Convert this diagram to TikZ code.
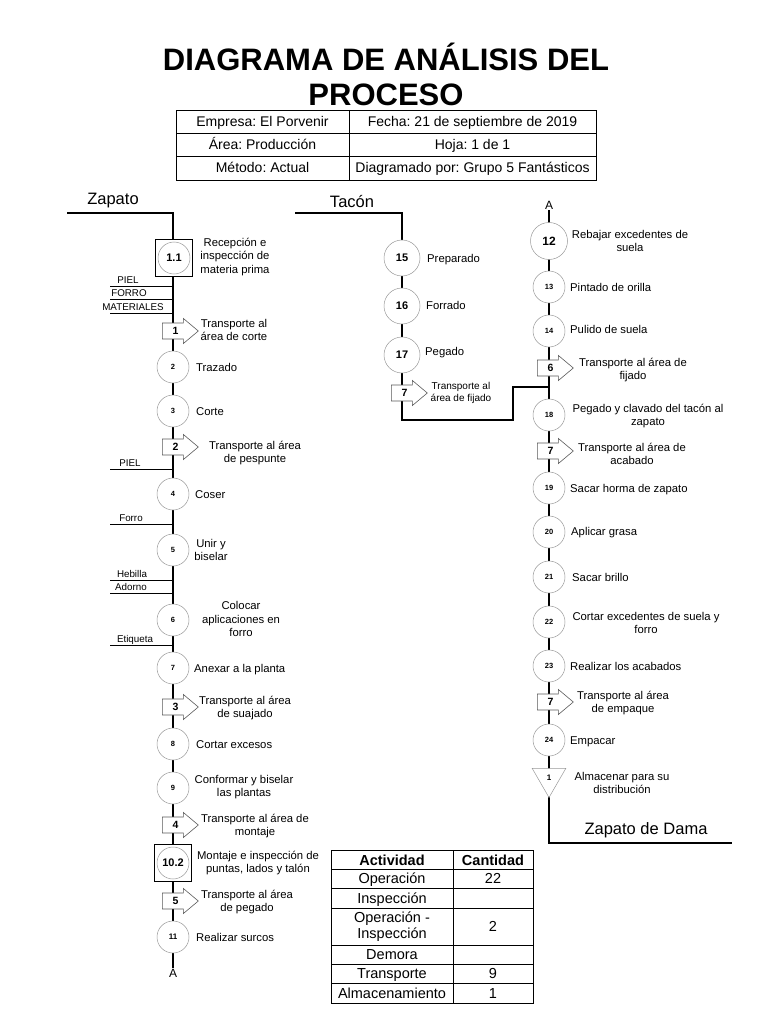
\documentclass[tikz,border=0pt]{standalone}
\usepackage{fontspec}
\setmainfont{Liberation Sans}
\usetikzlibrary{shapes.geometric, shapes.arrows, backgrounds}
\frenchspacing

\tikzset{
  flujo/.style={line width=1.2pt},
  matline/.style={line width=0.9pt},
  tabla/.style={line width=0.9pt},
  opcirc/.style={circle, draw=gray!80, line width=0.5pt, fill=white, minimum size=32pt, inner sep=0pt, font=\fontsize{7.5}{8}\selectfont\bfseries},
  opgrande/.style={opcirc, minimum size=36pt, font=\fontsize{11}{12}\selectfont\bfseries},
  inspbox/.style={rectangle, draw=black, line width=0.9pt, fill=white, minimum size=37pt, inner sep=0pt,
    font=\fontsize{11}{12}\selectfont\bfseries,
    path picture={\draw[gray!80, line width=0.5pt] (path picture bounding box.center) circle (16pt);}},
  transp/.style={single arrow, draw=black!65, line width=0.6pt, fill=white, anchor=tail,
    minimum height=36pt, minimum width=25pt, single arrow head extend=4.5pt, inner sep=4pt,
    single arrow tip angle=80, font=\fontsize{10.5}{11}\selectfont\bfseries},
  almac/.style={regular polygon, regular polygon sides=3, shape border rotate=180, draw=gray!80,
    line width=0.5pt, fill=white, minimum size=39pt, inner sep=0pt, font=\fontsize{8}{9}\selectfont\bfseries},
  desc/.style={align=center, inner sep=0pt, font=\fontsize{11.3}{13.5}\selectfont},
  descl/.style={desc, anchor=base west, yshift=-4pt},
  mat/.style={anchor=base, inner sep=0pt, font=\fontsize{9.8}{10}\selectfont},
  letra/.style={inner sep=1pt, font=\fontsize{12}{12}\selectfont},
  rotulo/.style={inner sep=0pt, font=\fontsize{16.5}{18}\selectfont},
  celda/.style={align=center, inner sep=0pt, anchor=base, yshift=-5pt, font=\fontsize{14}{16}\selectfont},
  resumen/.style={celda, font=\fontsize{14.5}{16}\selectfont},
  titulo/.style={align=center, inner sep=0pt, font=\fontsize{31}{35}\selectfont\bfseries}
}

\begin{document}
\begin{tikzpicture}[x=1pt, y=-1pt]
\useasboundingbox (0,0) rectangle (768,1024);

% titulo
\node[titulo] (tit) at (386,74.5) {DIAGRAMA DE ANÁLISIS DEL\\PROCESO};

% cabecera
\def\hxa{176}\def\hxb{349}\def\hxc{596}
\draw[tabla] (\hxa,110) rectangle (\hxc,180);
\draw[tabla] (\hxb,110) -- (\hxb,180);
\draw[tabla] (\hxa,133) -- (\hxc,133) (\hxa,156) -- (\hxc,156);
\foreach \yy/\ta/\tb [count=\i] in {121.5/{Empresa: El Porvenir}/{Fecha: 21 de septiembre de 2019},
    144.5/{Área: Producción}/{Hoja: 1 de 1},
    168/{Método: Actual}/{Diagramado por: Grupo 5 Fantásticos}}
{
  \node[celda] (ha\i) at (262.5,\yy) {\ta};
  \node[celda] (hb\i) at (472.5,\yy) {\tb};
}

% Zapato
\node[rotulo] (zap) at (113,201) {Zapato};
\coordinate (z0) at (67,213);
\coordinate (z1) at (173,213);
\node[letra] (zA) at (173,973) {A};

\node[inspbox] (s11) at (174,258) {1.1};
\node[desc] (d11) at (235,257) {Recepción e\\inspección de\\materia prima};
\node[transp] (tr1) at (162,331) {1};
\node[desc] (dt1) at (234,330) {Transporte al\\área de corte};
\node[opcirc] (s2) at (173,367) {2};
\node[descl] (d2) at (196,367) {Trazado};
\node[opcirc] (s3) at (173,411) {3};
\node[descl] (d3) at (196,411) {Corte};
\node[transp] (tr2) at (162,447) {2};
\node[desc] (dt2) at (255,453) {Transporte al área\\de pespunte};
\node[opcirc] (s4) at (173,494) {4};
\node[descl] (d4) at (195,494) {Coser};
\node[opcirc] (s5) at (173,550) {5};
\node[desc] (d5) at (211,550) {Unir y\\biselar};
\node[opcirc] (s6) at (173,620) {6};
\node[desc] (d6) at (241,619) {Colocar\\aplicaciones en\\forro};
\node[opcirc] (s7) at (173,668) {7};
\node[descl] (d7) at (194,668) {Anexar a la planta};
\node[transp] (tr3) at (162,707) {3};
\node[desc] (dt3) at (245,708) {Transporte al área\\de suajado};
\node[opcirc] (s8) at (173,744) {8};
\node[descl] (d8) at (196,744) {Cortar excesos};
\node[opcirc] (s9) at (173,788) {9};
\node[desc] (d9) at (244,787) {Conformar y biselar\\las plantas};
\node[transp] (tr4) at (162,825) {4};
\node[desc] (dt4) at (255,826) {Transporte al área de\\montaje};
\node[inspbox] (s102) at (173,863) {10.2};
\node[desc] (d102) at (258,863) {Montaje e inspección de\\puntas, lados y talón};
\node[transp] (tr5) at (162,901) {5};
\node[desc] (dt5) at (247,902) {Transporte al área\\de pegado};
\node[opcirc, font=\fontsize{8}{9}\selectfont\bfseries] (s11b) at (173,937) {11};
\node[descl] (d11b) at (196,937) {Realizar surcos};

% materiales
\foreach \yy/\txt/\tx [count=\i] in {286/PIEL/128, 299/FORRO/129, 313/MATERIALES/133, 469/PIEL/130,
    524/Forro/131, 580/Hebilla/132, 593/Adorno/131, 645/Etiqueta/135}
{
  \coordinate (m\i) at (110,\yy);
  \node[mat] (mt\i) at (\tx,\yy-3) {\txt};
  \begin{scope}[on background layer]
    \draw[matline] (m\i) -- (m\i -| zA);
  \end{scope}
}

% Tacon
\node[rotulo] (tac) at (352,202) {Tacón};
\coordinate (t0) at (295,213);
\coordinate (t1) at (402,213);
\coordinate (t2) at (402,420);
\coordinate (t3) at (513,420);
\coordinate (t4) at (513,387);
\node[opgrande] (s15) at (402,258) {15};
\node[descl] (d15) at (427,258) {Preparado};
\node[opgrande] (s16) at (402,306) {16};
\node[descl] (d16) at (426,305) {Forrado};
\node[opgrande] (s17) at (402,355) {17};
\node[descl] (d17) at (425,351) {Pegado};
\node[transp] (tr7a) at (391,393) {7};
\node[desc, font=\fontsize{10}{12}\selectfont] (dt7a) at (461,393) {Transporte al\\área de fijado};

% Zapato de Dama
\node[letra] (dA) at (549,205) {A};
\coordinate (jn) at (549,387);
\coordinate (e1) at (549,843);
\coordinate (e2) at (732,843);
\node[opgrande, minimum size=37pt, font=\fontsize{12}{13}\selectfont\bfseries] (s12) at (549,241) {12};
\node[desc] (d12) at (630,241) {Rebajar excedentes de\\suela};
\node[opcirc] (s13) at (549,287) {13};
\node[descl] (d13) at (570,287) {Pintado de orilla};
\node[opcirc] (s14) at (549,331) {14};
\node[descl] (d14) at (570,329) {Pulido de suela};
\node[transp] (tr6) at (537,368) {6};
\node[desc] (dt6) at (633,370) {Transporte al área de\\fijado};
\node[opcirc] (s18) at (549,415) {18};
\node[desc] (d18) at (648,416) {Pegado y clavado del tacón al\\zapato};
\node[transp] (tr7b) at (537,451) {7};
\node[desc] (dt7b) at (632,454) {Transporte al área de\\acabado};
\node[opcirc] (s19) at (549,488) {19};
\node[descl] (d19) at (570,488) {Sacar horma de zapato};
\node[opcirc] (s20) at (549,532) {20};
\node[descl] (d20) at (571,531) {Aplicar grasa};
\node[opcirc] (s21) at (549,577) {21};
\node[descl] (d21) at (572,577) {Sacar brillo};
\node[opcirc] (s22) at (549,622) {22};
\node[desc] (d22) at (646,623) {Cortar excedentes de suela y\\forro};
\node[opcirc] (s23) at (549,666) {23};
\node[descl] (d23) at (570,666) {Realizar los acabados};
\node[transp] (tr7c) at (537,702) {7};
\node[desc] (dt7c) at (623,703) {Transporte al área\\de empaque};
\node[opcirc] (s24) at (549,740) {24};
\node[descl] (d24) at (570,740) {Empacar};
\node[almac] (alm1) at (549,778) {1};
\node[desc] (dalm) at (622,783) {Almacenar para su\\distribución};
\node[rotulo] (dama) at (646,830) {Zapato de Dama};

% lineas de flujo
\begin{scope}[on background layer]
  \draw[flujo] (z0) -- (z1) -- (zA);
  \draw[flujo] (t0) -- (t1) -- (t2) -- (t3) -- (t4) -- (jn);
  \draw[flujo] (dA) -- (e1) -- (e2);
\end{scope}

% resumen
\def\bxa{331}\def\bxb{453}\def\bxc{533}
\draw[tabla] (\bxa,850) rectangle (\bxc,1003);
\draw[tabla] (\bxb,850) -- (\bxb,1003);
\foreach \yy in {869,888,908,945,964,983}
  \draw[tabla] (\bxa,\yy) -- (\bxc,\yy);
\node[resumen, font=\fontsize{14.5}{16}\selectfont\bfseries] (act0) at (392,860) {Actividad};
\node[resumen, font=\fontsize{14.5}{16}\selectfont\bfseries] (can0) at (493,860) {Cantidad};
\foreach \yy/\act/\can [count=\i] in {878.5/Operación/22, 898/Inspección/{}, 954.5/Demora/{},
    973.5/Transporte/9, 993/Almacenamiento/1}
{
  \node[resumen] (act\i) at (392,\yy) {\act};
  \node[resumen] (can\i) at (493,\yy) {\can};
}
\node[desc, font=\fontsize{14.5}{16}\selectfont] (act6) at (392,926.5) {Operación -\\Inspección};
\node[resumen] (can6) at (493,926.5) {2};
\end{tikzpicture}
\end{document}
